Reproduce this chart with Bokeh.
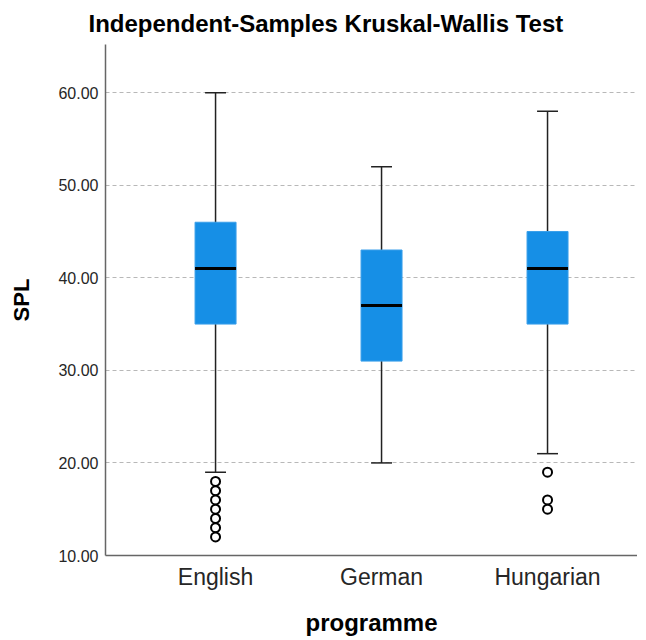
from bokeh.plotting import figure
from bokeh.models import Range1d, FixedTicker, PrintfTickFormatter, ColumnDataSource, Spacer
from bokeh.layouts import row
from bokeh.embed import file_html
from bokeh.resources import INLINE

# ---- data ----
categories = ["English", "German", "Hungarian"]
lower_whisker = [19, 20, 21]
q1 = [35, 31, 35]
median = [41, 37, 41]
q3 = [46, 43, 45]
upper_whisker = [60, 52, 58]
outliers_english = [18, 17, 16, 15, 14, 13, 12]
outliers_german = []
outliers_hungarian = [19, 16, 15]
y_ticks = [10, 20, 30, 40, 50, 60]

outliers = [outliers_english, outliers_german, outliers_hungarian]
xpos = [i + 1 for i in range(len(categories))]

BOX_W = 0.247
CAP_W = 0.126

src = ColumnDataSource(dict(
    x=xpos, lo=lower_whisker, q1=q1, med=median, q3=q3, hi=upper_whisker,
    bl=[x - BOX_W / 2 for x in xpos], br=[x + BOX_W / 2 for x in xpos],
    cl=[x - CAP_W / 2 for x in xpos], cr=[x + CAP_W / 2 for x in xpos],
))
ox, oy = [], []
for x, vals in zip(xpos, outliers):
    for v in vals:
        ox.append(x)
        oy.append(v)
osrc = ColumnDataSource(dict(x=ox, y=oy))

p = figure(frame_width=532, frame_height=511,
           x_range=Range1d(0.337, 3.542), y_range=Range1d(10, 65.2),
           output_backend="svg", toolbar_location=None,
           min_border_left=0, min_border_right=0, min_border_top=0, min_border_bottom=0)
p.background_fill_color = "white"
p.border_fill_color = "white"
p.outline_line_color = None

FONT = "Liberation Sans"

p.title.text = "Independent-Samples Kruskal-Wallis Test"
p.title.text_font = FONT
p.title.text_font_size = "24px"
p.title.text_font_style = "bold"
p.title.text_color = "#000000"
p.title.align = "left"
p.title.offset = -17
p.title.standoff = 15

# axes
xa = p.xaxis[0]
xa.ticker = FixedTicker(ticks=xpos)
xa.major_label_overrides = {x: c for x, c in zip(xpos, categories)}
xa.axis_label = "programme"
xa.axis_label_text_font = FONT
xa.axis_label_text_font_size = "24px"
xa.axis_label_text_font_style = "bold"
xa.axis_label_text_color = "#000000"
xa.axis_label_standoff = 16
xa.major_label_text_font = FONT
xa.major_label_text_font_size = "23px"
xa.major_label_text_color = "#262626"
xa.major_label_standoff = 8
xa.major_tick_out = 0
xa.major_tick_in = 0
xa.major_tick_line_color = None
xa.minor_tick_line_color = None
xa.axis_line_color = "#666666"
xa.axis_line_width = 1.5

ya = p.yaxis[0]
ya.ticker = FixedTicker(ticks=y_ticks)
ya.formatter = PrintfTickFormatter(format="%.2f")
ya.axis_label = "SPL"
ya.axis_label_text_font = FONT
ya.axis_label_text_font_size = "22px"
ya.axis_label_text_font_style = "bold"
ya.axis_label_text_color = "#000000"
ya.axis_label_standoff = 21
ya.major_label_text_font = FONT
ya.major_label_text_font_size = "16px"
ya.major_label_text_color = "#262626"
ya.major_label_standoff = 7
ya.major_tick_out = 0
ya.major_tick_in = 0
ya.major_tick_line_color = None
ya.minor_tick_line_color = None
ya.axis_line_color = "#666666"
ya.axis_line_width = 1.5

p.xgrid.visible = False
p.ygrid.ticker = FixedTicker(ticks=y_ticks[1:])
p.ygrid.grid_line_color = "#b8b8b8"
p.ygrid.grid_line_dash = "4 3"
p.ygrid.grid_line_width = 1.2

# whiskers
p.segment(x0="x", y0="lo", x1="x", y1="hi", source=src, line_color="#222222", line_width=1.5)
p.segment(x0="cl", y0="hi", x1="cr", y1="hi", source=src, line_color="#222222", line_width=1.5)
p.segment(x0="cl", y0="lo", x1="cr", y1="lo", source=src, line_color="#222222", line_width=1.5)
# boxes
p.vbar(x="x", top="q3", bottom="q1", width=BOX_W, source=src,
       fill_color="#168fe6", line_color="#3a9fea", line_width=1)
# medians
p.segment(x0="bl", y0="med", x1="br", y1="med", source=src, line_color="#000000", line_width=3)
# outliers
p.scatter(x="x", y="y", source=osrc, size=9, fill_color="white", line_color="#000000", line_width=2)

layout = row(Spacer(width=6), p)
open("out.html", "w").write(file_html(layout, INLINE))
